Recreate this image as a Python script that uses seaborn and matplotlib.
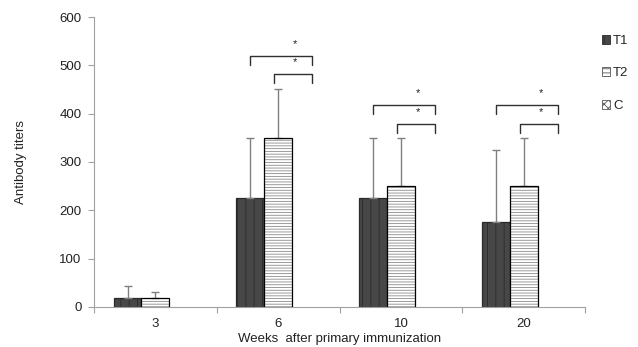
import pandas as pd
import matplotlib
matplotlib.use("Agg")
import matplotlib.pyplot as plt
from matplotlib.patches import Patch, Rectangle
import seaborn as sns

# data
weeks = ["3", "6", "10", "20"]
groups = ["T1", "T2", "C"]
t1 = [18, 225, 225, 175]
t1_err = [25, 125, 125, 150]
t2 = [18, 350, 250, 250]
t2_err = [14, 100, 100, 100]
c = [0, 0, 0, 0]

# significance brackets: week index, outer height, inner height
sig_weeks = [1, 2, 3]
sig_outer = [519, 418, 418]
sig_inner = [482, 379, 379]

df = pd.DataFrame({
    "week": weeks * 3,
    "group": ["T1"] * 4 + ["T2"] * 4 + ["C"] * 4,
    "titer": t1 + t2 + c,
})

sns.set_style("white")
plt.rcParams["font.family"] = ["Liberation Sans", "DejaVu Sans"]
plt.rcParams["hatch.linewidth"] = 0.6

fig = plt.figure(figsize=(6.38, 3.47), dpi=100)
ax = fig.add_axes([0.1473, 0.1153, 0.917 - 0.1473, 0.951 - 0.1153])

sns.barplot(data=df, x="week", y="titer", hue="group", order=weeks,
            hue_order=groups, width=0.68, errorbar=None, legend=False,
            palette=["#474747", "white", "white"], ax=ax)

t1_bars, t2_bars, c_bars = ax.containers
for p in t1_bars:
    p.set_edgecolor("#2a2a2a")
    p.set_linewidth(0.9)
    p.set_hatch("||")
for p in t2_bars:
    p.set_edgecolor("#8a8a8a")
    p.set_linewidth(0)
    p.set_hatch("------")
    ax.add_patch(Rectangle((p.get_x(), p.get_y()), p.get_width(), p.get_height(),
                           facecolor="none", edgecolor="black", linewidth=0.9,
                           zorder=p.get_zorder() + 0.1))
for p in c_bars:
    p.set_linewidth(0)

# upper error bars only
for bars, vals, errs in [(t1_bars, t1, t1_err), (t2_bars, t2, t2_err)]:
    xs = [p.get_x() + p.get_width() / 2 for p in bars]
    ax.errorbar(xs, vals, yerr=[[0] * len(errs), errs], fmt="none",
                ecolor="#808080", elinewidth=1, capsize=3, capthick=1, zorder=1)

# significance brackets
tip = 19
for i, yo, yi in zip(sig_weeks, sig_outer, sig_inner):
    x1 = t1_bars[i].get_x() + t1_bars[i].get_width() / 2
    x2 = t2_bars[i].get_x() + t2_bars[i].get_width() / 2
    x3 = c_bars[i].get_x() + c_bars[i].get_width() / 2 + 0.05
    ax.plot([x1, x1, x3, x3], [yo - tip, yo, yo, yo - tip], color="#303030", lw=1)
    ax.plot([x2 - 0.03, x2 - 0.03, x3, x3], [yi - tip, yi, yi, yi - tip],
            color="#303030", lw=1)
    ax.text(x2 + 0.14, yo + 14, "*", ha="center", va="bottom", fontsize=8, color="#222222")
    ax.text(x2 + 0.14, yi + 14, "*", ha="center", va="bottom", fontsize=8, color="#222222")

ax.set_ylim(0, 600)
ax.set_yticks(range(0, 601, 100))
ax.set_xlim(-0.5, 3.5)
ax.set_xticks(range(4))
ax.set_xticklabels(weeks)
ax.set_xticks([-0.5, 0.5, 1.5, 2.5, 3.5], minor=True)
ax.tick_params(axis="x", which="major", length=0, pad=8, labelsize=9.5, colors="#222222")
ax.tick_params(axis="x", which="minor", length=4, width=0.8, color="#a0a0a0", direction="out")
ax.tick_params(axis="y", length=4, width=0.8, color="#a0a0a0", direction="out",
               pad=5, labelsize=9.5, labelcolor="#222222")
ax.tick_params(axis="x", which="major", bottom=True)
ax.xaxis.set_tick_params(which="minor", bottom=True)
ax.yaxis.set_tick_params(left=True)

for s in ["top", "right"]:
    ax.spines[s].set_visible(False)
for s in ["left", "bottom"]:
    ax.spines[s].set_color("#a0a0a0")
    ax.spines[s].set_linewidth(0.8)

ax.set_xlabel("Weeks  after primary immunization", fontsize=9.5, color="#222222", labelpad=2)
ax.set_ylabel("Antibody titers", fontsize=9.5, color="#222222", labelpad=23)

handles = [
    Patch(facecolor="#474747", edgecolor="#2a2a2a", hatch="||", linewidth=0.6),
    Patch(facecolor="white", edgecolor="#555555", hatch="----", linewidth=0.6),
    Patch(facecolor="white", edgecolor="#555555", hatch="xxxx", linewidth=0.6),
]
fig.legend(handles, groups, loc="upper left", bbox_to_anchor=(0.935, 0.915),
           frameon=False, fontsize=9.5, handlelength=0.65, handleheight=0.65,
           handletextpad=0.2, labelspacing=1.55, borderaxespad=0)

fig.savefig("out.png", dpi=100)
